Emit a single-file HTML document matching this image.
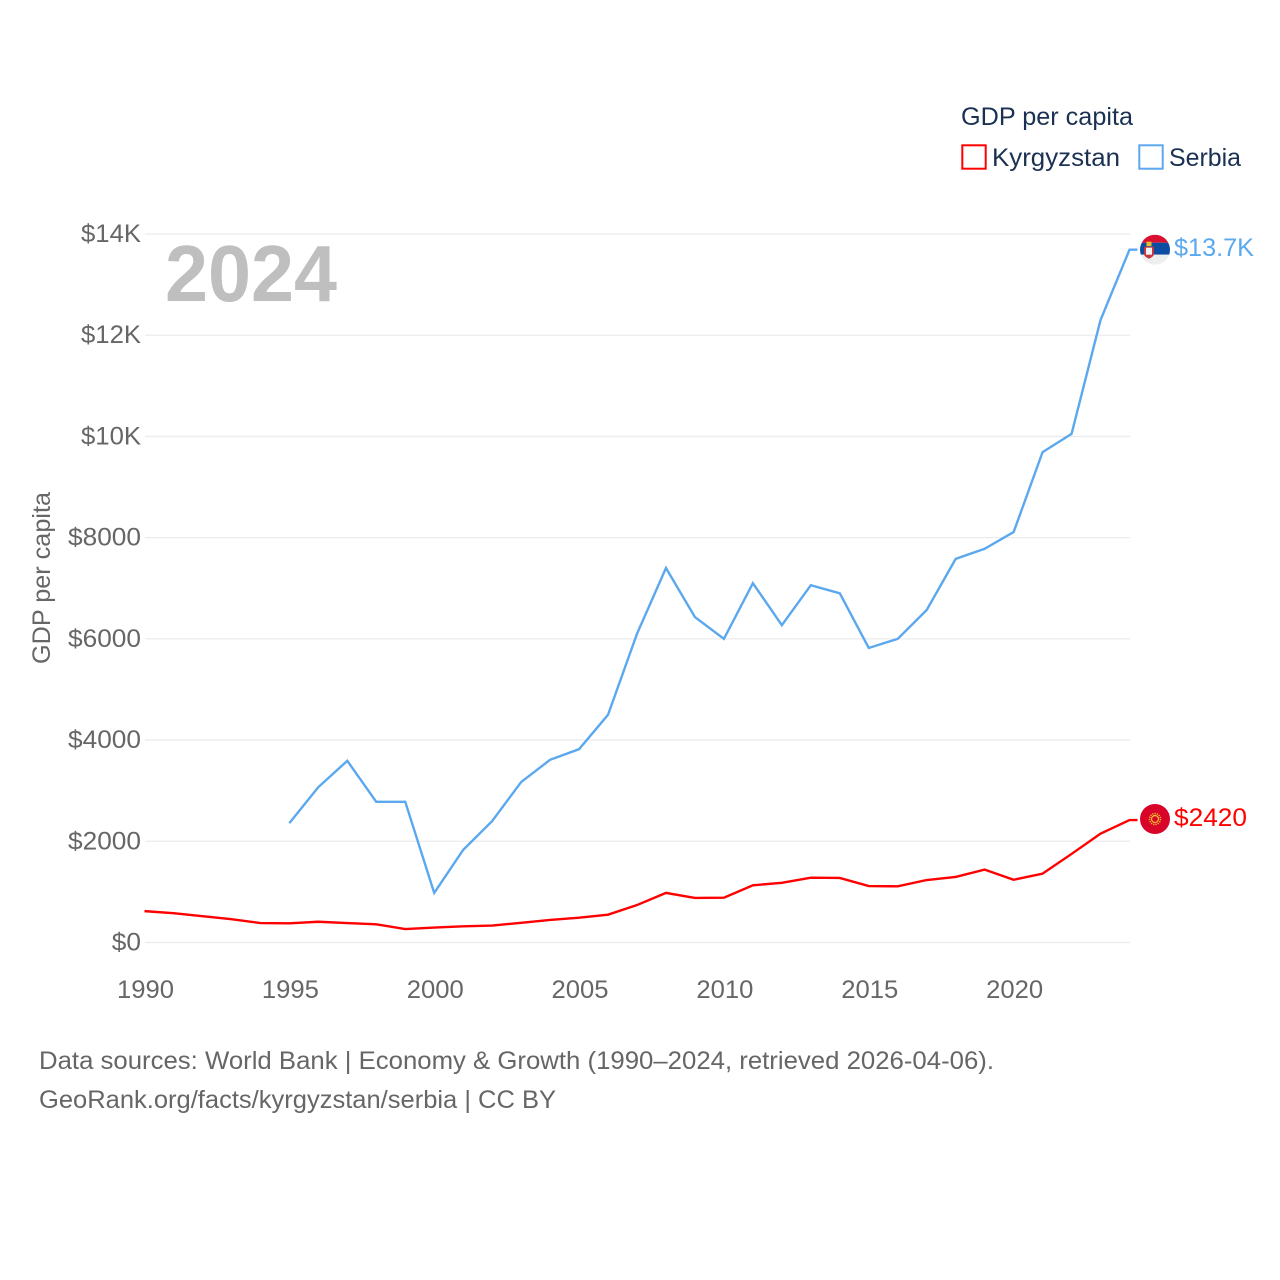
<!DOCTYPE html>
<html lang="en">
<head>
<meta charset="utf-8">
<title>GDP per capita: Kyrgyzstan and Serbia</title>
<style>
html,body{margin:0;padding:0;background:#fff;width:1280px;height:1280px;overflow:hidden}
svg{display:block}
text{font-family:"Liberation Sans",sans-serif}
</style>
</head>
<body>
<svg id="chart" xmlns="http://www.w3.org/2000/svg" width="1280" height="1280" viewBox="0 0 1280 1280">
  <rect width="1280" height="1280" fill="#fff"/>
  <g id="grid"></g>
  <g id="yticks"></g>
  <g id="xticks"></g>
  <text x="165" y="301" font-size="80" font-weight="700" fill="#bfbfbf" textLength="172" lengthAdjust="spacingAndGlyphs">2024</text>
  <text transform="translate(50,664) rotate(-90)" font-size="25" fill="#666" textLength="172" lengthAdjust="spacingAndGlyphs">GDP per capita</text>
  <g id="series"></g>
  <g>
    <text x="961" y="125" font-size="25" fill="#1a3152" textLength="172" lengthAdjust="spacingAndGlyphs">GDP per capita</text>
    <rect x="962.3" y="145.3" width="23.4" height="23.4" fill="#fff" stroke="#ff0000" stroke-width="2"/>
    <text x="992" y="166" font-size="25" fill="#1a3152" textLength="128" lengthAdjust="spacingAndGlyphs">Kyrgyzstan</text>
    <rect x="1139.3" y="145.3" width="23.4" height="23.4" fill="#fff" stroke="#5ba8ee" stroke-width="2"/>
    <text x="1169" y="166" font-size="25" fill="#1a3152" textLength="72" lengthAdjust="spacingAndGlyphs">Serbia</text>
  </g>
  <g>
    <text x="39" y="1069" font-size="25" fill="#666" textLength="955" lengthAdjust="spacingAndGlyphs">Data sources: World Bank | Economy &amp; Growth (1990–2024, retrieved 2026-04-06).</text>
    <text x="39" y="1108" font-size="25" fill="#666" textLength="517" lengthAdjust="spacingAndGlyphs">GeoRank.org/facts/kyrgyzstan/serbia | CC BY</text>
  </g>
  <defs>
    <clipPath id="clip-serbia"><circle id="clip-serbia-circle" r="15" cx="0" cy="0"/></clipPath>
  </defs>
  <g id="flag-serbia">
    <g clip-path="url(#clip-serbia)">
      <rect x="-15" y="-15" width="30" height="8" fill="#d9102f"/>
      <rect x="-15" y="-7" width="30" height="12" fill="#0c4da2"/>
      <rect x="-15" y="5" width="30" height="10" fill="#eeeeee"/>
      <path d="M-11-3h10v7q0 3-5 5q-5-2-5-5z" fill="#c6363c"/>
      <rect x="-9" y="-2" width="6" height="7" fill="#f3f3f3"/>
      <rect x="-8.500" y="-8" width="5" height="4.500" fill="#edb92e"/>
    </g>
  </g>
  <g id="flag-kg">
    <circle r="15" fill="#d90429"/>
    <circle r="3.500" fill="none" stroke="#f4c430" stroke-width="1.200"/>
    <circle r="5.500" fill="none" stroke="#f4c430" stroke-width="1.500" stroke-dasharray="1.200 1.100"/>
  </g>
  <g id="endlabels"></g>
</svg>
<script>
const years = [1990,1991,1992,1993,1994,1995,1996,1997,1998,1999,2000,2001,2002,2003,2004,2005,2006,2007,2008,2009,2010,2011,2012,2013,2014,2015,2016,2017,2018,2019,2020,2021,2022,2023,2024];
const kyrgyzstan = [620,580,520,460,385,380,410,385,360,265,295,320,335,390,445,490,550,740,980,880,885,1130,1180,1280,1275,1115,1110,1235,1295,1440,1240,1360,1750,2150,2420];
const serbia = [null,null,null,null,null,2360,3070,3590,2780,2780,980,1830,2400,3170,3610,3820,4500,6100,7400,6430,6000,7100,6270,7060,6900,5820,6000,6570,7580,7780,8110,9690,10050,12300,13690];
const yTickValues = [0,2000,4000,6000,8000,10000,12000,14000];
const yTickLabels = ["$0","$2000","$4000","$6000","$8000","$10K","$12K","$14K"];
const xTickValues = [1990,1995,2000,2005,2010,2015,2020];
const endLabelKyrgyzstan = "$2420";
const endLabelSerbia = "$13.7K";

const NS = 'http://www.w3.org/2000/svg';
const x = function (year) { return 144.5 + (year - 1990) * (1129.5 - 144.5) / 34; };
const y = function (value) { return 942.5 - value * 708.5 / 14000; };
const approxWidth = function (label, perChar) { return label.length * perChar; };

const grid = document.getElementById('grid');
const yticks = document.getElementById('yticks');
yTickValues.forEach(function (v, i) {
  const line = document.createElementNS(NS, 'line');
  
  
  line.setAttribute('x1', 145);
  line.setAttribute('x2', 1130);
  line.setAttribute('y1', y(v));
  line.setAttribute('y2', y(v));
  line.setAttribute('stroke', '#ececec');
  line.setAttribute('stroke-width', '1.3');
  grid.appendChild(line);

  const t = document.createElementNS(NS, 'text');
  
  
  t.setAttribute('x', 141);
  t.setAttribute('y', y(v) + 8);
  t.setAttribute('text-anchor', 'end');
  t.setAttribute('font-size', '25');
  t.setAttribute('fill', '#666');
  t.setAttribute('textLength', yTickLabels[i].indexOf('K') > 0 ? 60 : approxWidth(yTickLabels[i], 14.6));
  t.setAttribute('lengthAdjust', 'spacingAndGlyphs');
  t.textContent = yTickLabels[i];
  yticks.appendChild(t);
});

const xticks = document.getElementById('xticks');
xTickValues.forEach(function (v) {
  const t = document.createElementNS(NS, 'text');
  
  
  t.setAttribute('x', x(v) + 1);
  t.setAttribute('y', 998);
  t.setAttribute('text-anchor', 'middle');
  t.setAttribute('font-size', '25');
  t.setAttribute('fill', '#666');
  t.setAttribute('textLength', 57);
  t.setAttribute('lengthAdjust', 'spacingAndGlyphs');
  t.textContent = String(v);
  xticks.appendChild(t);
});

const seriesGroup = document.getElementById('series');
function drawSeries(values, color, seriesName) {
  let d = '';
  let lastX = 0, lastY = 0;
  values.forEach(function (v, i) {
    if (v === null) return;
    lastX = x(years[i]);
    lastY = y(v);
    d += (d ? 'L' : 'M') + lastX.toFixed(2) + ' ' + lastY.toFixed(2);
  });
  const path = document.createElementNS(NS, 'path');
  
  
  path.setAttribute('d', d + 'L' + (lastX + 8).toFixed(2) + ' ' + lastY.toFixed(2));
  path.setAttribute('fill', 'none');
  path.setAttribute('stroke', color);
  path.setAttribute('stroke-width', '2.4');
  path.setAttribute('stroke-linejoin', 'miter');
  seriesGroup.appendChild(path);
  return lastY;
}
const endKg = drawSeries(kyrgyzstan, '#ff0000', 'kyrgyzstan-line');
const endRs = drawSeries(serbia, '#5ba8ee', 'serbia-line');

document.getElementById('flag-serbia').setAttribute('transform', 'translate(1155,' + endRs + ')');
document.getElementById('flag-kg').setAttribute('transform', 'translate(1155,' + (endKg - 1) + ')');

const endLabels = document.getElementById('endlabels');
function drawEndLabel(label, yPos, color, width, labelName) {
  const t = document.createElementNS(NS, 'text');
  
  
  t.setAttribute('x', 1174);
  t.setAttribute('y', yPos);
  t.setAttribute('font-size', '25');
  t.setAttribute('fill', color);
  t.setAttribute('textLength', width);
  t.setAttribute('lengthAdjust', 'spacingAndGlyphs');
  t.textContent = label;
  endLabels.appendChild(t);
}
drawEndLabel(endLabelSerbia, endRs + 6.5, '#5ba8ee', 80, 'serbia-end-label');
drawEndLabel(endLabelKyrgyzstan, endKg + 6, '#ff0000', 73, 'kyrgyzstan-end-label');
</script>
</body>
</html>
